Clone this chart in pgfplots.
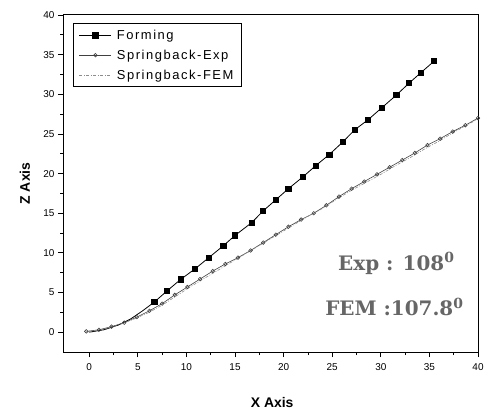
\documentclass[border=0pt]{standalone}
\usepackage{fontspec}
\setmainfont{Liberation Sans}
\newfontfamily\annofont{DejaVu Serif}
\newfontfamily\legfont[LetterSpace=12]{Liberation Sans}
\usepackage{pgfplots}
\pgfplotsset{compat=1.18}

% Forming, lower part: line only
\pgfplotstableread{
x y
0.0 0.0
1.5 0.3
3.0 0.9
4.3 1.7
5.5 2.7
6.7 3.8
}\forminglow

% Forming with square marks
\pgfplotstableread{
x y
6.7 3.8
8.0 5.2
9.4 6.65
10.9 8.0
12.3 9.4
13.8 10.9
15.0 12.2
16.7 13.8
17.9 15.3
19.2 16.7
20.5 18.1
22.0 19.6
23.3 21.0
24.7 22.4
26.1 24.0
27.3 25.5
28.7 26.8
30.1 28.3
31.6 29.9
32.9 31.4
34.1 32.7
35.5 34.2
}\forming

\pgfplotstableread{
x y
-0.3 0.1
1.0 0.3
2.3 0.7
3.6 1.2
4.9 1.9
6.2 2.7
7.5 3.6
8.8 4.7
10.1 5.7
11.4 6.7
12.7 7.7
14.0 8.6
15.3 9.4
16.6 10.3
17.9 11.3
19.2 12.3
20.5 13.3
21.8 14.2
23.1 15.0
24.4 16.0
25.7 17.1
27.0 18.1
28.3 19.0
29.6 19.9
30.9 20.8
32.2 21.7
33.5 22.6
34.8 23.6
36.1 24.4
37.4 25.3
38.7 26.1
40.0 27.0
}\exper

\pgfplotstableread{
x y
-0.3 0.0
1.5 0.4
3.0 0.9
4.5 1.6
6.0 2.4
7.5 3.4
9.0 4.6
10.5 5.8
12.0 6.9
13.5 8.0
15.0 9.1
16.5 10.2
18.0 11.3
19.5 12.4
21.0 13.5
22.5 14.6
24.0 15.6
25.5 16.8
27.0 17.9
28.5 18.9
30.0 19.9
31.5 21.0
33.0 22.0
34.5 23.1
36.0 24.1
37.5 25.2
39.0 26.2
40.0 26.9
}\fem

\begin{document}
\begin{tikzpicture}
\begin{axis}[
    scale only axis,
    width=415bp, height=337bp,
    xmin=-2.7, xmax=40,
    ymin=-2.5, ymax=40,
    xtick={0,5,...,40}, ytick={0,5,...,40},
    minor tick num=1,
    tick pos=left,
    tick align=outside,
    major tick length=5bp,
    minor tick length=3bp,
    axis line style={line width=1pt},
    every tick/.style={black, line width=0.8pt},
    /pgf/number format/assume math mode=true,
    tick label style={font=\fontsize{10}{12}\selectfont},
    xticklabel style={yshift=-3bp},
    xlabel={X Axis}, ylabel={Z Axis},
    label style={font=\fontsize{14}{16}\selectfont\bfseries},
    xlabel style={at={(axis description cs:0.504,-0.151)}, anchor=center},
    ylabel style={at={(axis description cs:-0.092,0.5)}, anchor=center, rotate=0},
    legend style={at={(axis description cs:0.023,0.975)}, anchor=north west,
        draw=black, line width=1pt, inner xsep=6bp, inner ysep=4bp,
        font=\legfont\fontsize{13}{15}\selectfont,
        row sep=5bp, column sep=3bp, legend cell align=left},
    legend image code/.code={%
        \draw[mark repeat=2, mark phase=2, #1]
            plot coordinates {(0bp,0bp) (16bp,0bp) (32bp,0bp)};},
    legend image post style={line width=0.8pt},
]
\addplot[black, line width=0.8pt, forget plot] table[x=x, y=y] {\forminglow};
\addplot[black, line width=0.8pt, mark=square*, mark size=2.6bp]
    table[x=x, y=y] {\forming};
\addlegendentry{Forming}
\addplot[black!75, line width=0.6pt, mark=o, mark size=1.8bp, mark options={line width=0.6pt}]
    table[x=x, y=y] {\exper};
\addlegendentry{Springback-Exp}
\addplot[black!45, line width=0.6pt, dash pattern=on 3pt off 1.5pt on 1pt off 1.5pt]
    table[x=x, y=y] {\fem};
\addlegendentry{Springback-FEM}
\node[text=black!60, font=\annofont\bfseries\fontsize{20}{24}\selectfont]
    at (axis cs:31.6,8.7) {Exp : 108\textsuperscript{0}};
\node[text=black!60, font=\annofont\bfseries\fontsize{20}{24}\selectfont]
    at (axis cs:31.4,3.2) {FEM :107.8\textsuperscript{0}};
\end{axis}
\pgfresetboundingbox
\path (current axis.south west) ++(-63bp,-58bp) rectangle ([shift={(9bp,15bp)}]current axis.north east);
\end{tikzpicture}
\end{document}
